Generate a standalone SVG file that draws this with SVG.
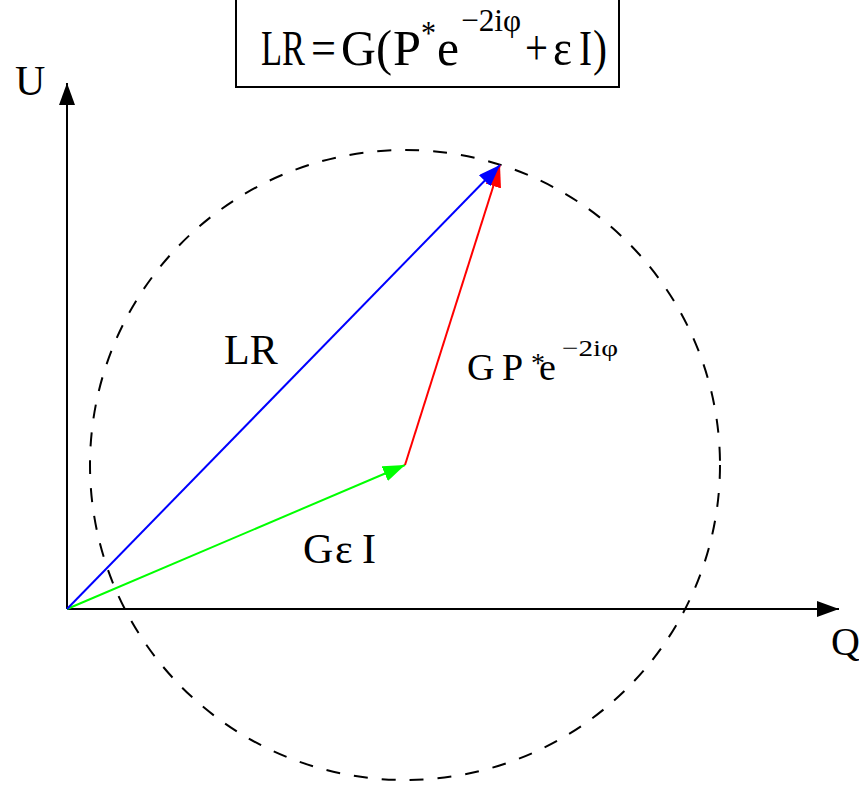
<svg xmlns="http://www.w3.org/2000/svg" width="859" height="791" viewBox="0 0 859 791">
<style>
text{font-family:"Liberation Serif","Times New Roman",serif;fill:#000}
.ax{stroke:#000;stroke-width:2;fill:none}
.v{stroke-width:2;fill:none}
</style>
<defs>
<marker id="hk" markerUnits="userSpaceOnUse" viewBox="0 0 22 16" refX="22" refY="8" markerWidth="22" markerHeight="16" orient="auto"><path d="M0,0 L22,8 L0,16 Z" fill="#000"/></marker>
<marker id="hb" markerUnits="userSpaceOnUse" viewBox="0 0 22 16" refX="22" refY="8" markerWidth="22" markerHeight="16" orient="auto"><path d="M0,0 L22,8 L0,16 Z" fill="#0000ff"/></marker>
<marker id="hr" markerUnits="userSpaceOnUse" viewBox="0 0 22 16" refX="22" refY="8" markerWidth="22" markerHeight="16" orient="auto"><path d="M0,0 L22,8 L0,16 Z" fill="#ff0000"/></marker>
<marker id="hg" markerUnits="userSpaceOnUse" viewBox="0 0 22 16" refX="22" refY="8" markerWidth="22" markerHeight="16" orient="auto"><path d="M0,0 L22,8 L0,16 Z" fill="#00ff00"/></marker>
</defs>
<rect width="859" height="791" fill="#fff"/>
<g id="formula">
<rect x="236" y="-2" width="383" height="89" fill="#fff" stroke="#000" stroke-width="2"/>
<text font-size="51" y="65" x="261" textLength="44" lengthAdjust="spacingAndGlyphs">LR</text>
<text font-size="51" y="65" x="311" textLength="25" lengthAdjust="spacingAndGlyphs">=</text>
<text font-size="51" y="65" x="341" textLength="51" lengthAdjust="spacingAndGlyphs">G(</text>
<text font-size="51" y="65" x="393" textLength="28" lengthAdjust="spacingAndGlyphs">P</text>
<text font-size="34" y="44" x="421" textLength="15" lengthAdjust="spacingAndGlyphs">*</text>
<text font-size="51" y="65" x="437" textLength="22" lengthAdjust="spacingAndGlyphs">e</text>
<text font-size="32" y="31" x="461" textLength="60" lengthAdjust="spacingAndGlyphs">−2iφ</text>
<text font-size="51" y="65" x="525" textLength="23" lengthAdjust="spacingAndGlyphs">+</text>
<text font-size="51" y="65" x="553" textLength="19" lengthAdjust="spacingAndGlyphs">ε</text>
<text font-size="51" y="65" x="579" textLength="13" lengthAdjust="spacingAndGlyphs">I</text>
<text font-size="51" y="65" x="593" textLength="14" lengthAdjust="spacingAndGlyphs">)</text>
</g>
<g id="circle">
<circle cx="405" cy="465" r="315" fill="none" stroke="#000" stroke-width="2" stroke-dasharray="14 14"/>
</g>
<g id="connectors">
<line class="ax" x1="67" y1="609" x2="67" y2="83" marker-end="url(#hk)"/>
<line class="ax" x1="67" y1="609" x2="839" y2="609" marker-end="url(#hk)"/>
<line class="v" stroke="#00ff00" x1="67" y1="609" x2="405" y2="465" marker-end="url(#hg)"/>
<line class="v" stroke="#ff0000" x1="405" y1="465" x2="500" y2="165" marker-end="url(#hr)"/>
<line class="v" stroke="#0000ff" x1="67" y1="609" x2="500" y2="165" marker-end="url(#hb)"/>
</g>
<g id="axis-u"><text font-size="42" x="15" y="95">U</text></g>
<g id="axis-q"><text font-size="40" x="831" y="655">Q</text></g>
<g id="label-lr"><text font-size="42" x="224" y="364">LR</text></g>
<g id="label-gpe">
<text font-size="38" x="467" y="380">G</text>
<text font-size="38" x="502" y="380">P</text>
<text font-size="28" x="531" y="372">*</text>
<text font-size="38" x="539" y="380">e</text>
<text font-size="24" x="562" y="356" textLength="56" lengthAdjust="spacingAndGlyphs">−2iφ</text>
</g>
<g id="label-gei">
<text font-size="42" x="303" y="563">G</text>
<text font-size="42" x="335" y="563">ε</text>
<text font-size="42" x="362" y="563">I</text>
</g>
</svg>
